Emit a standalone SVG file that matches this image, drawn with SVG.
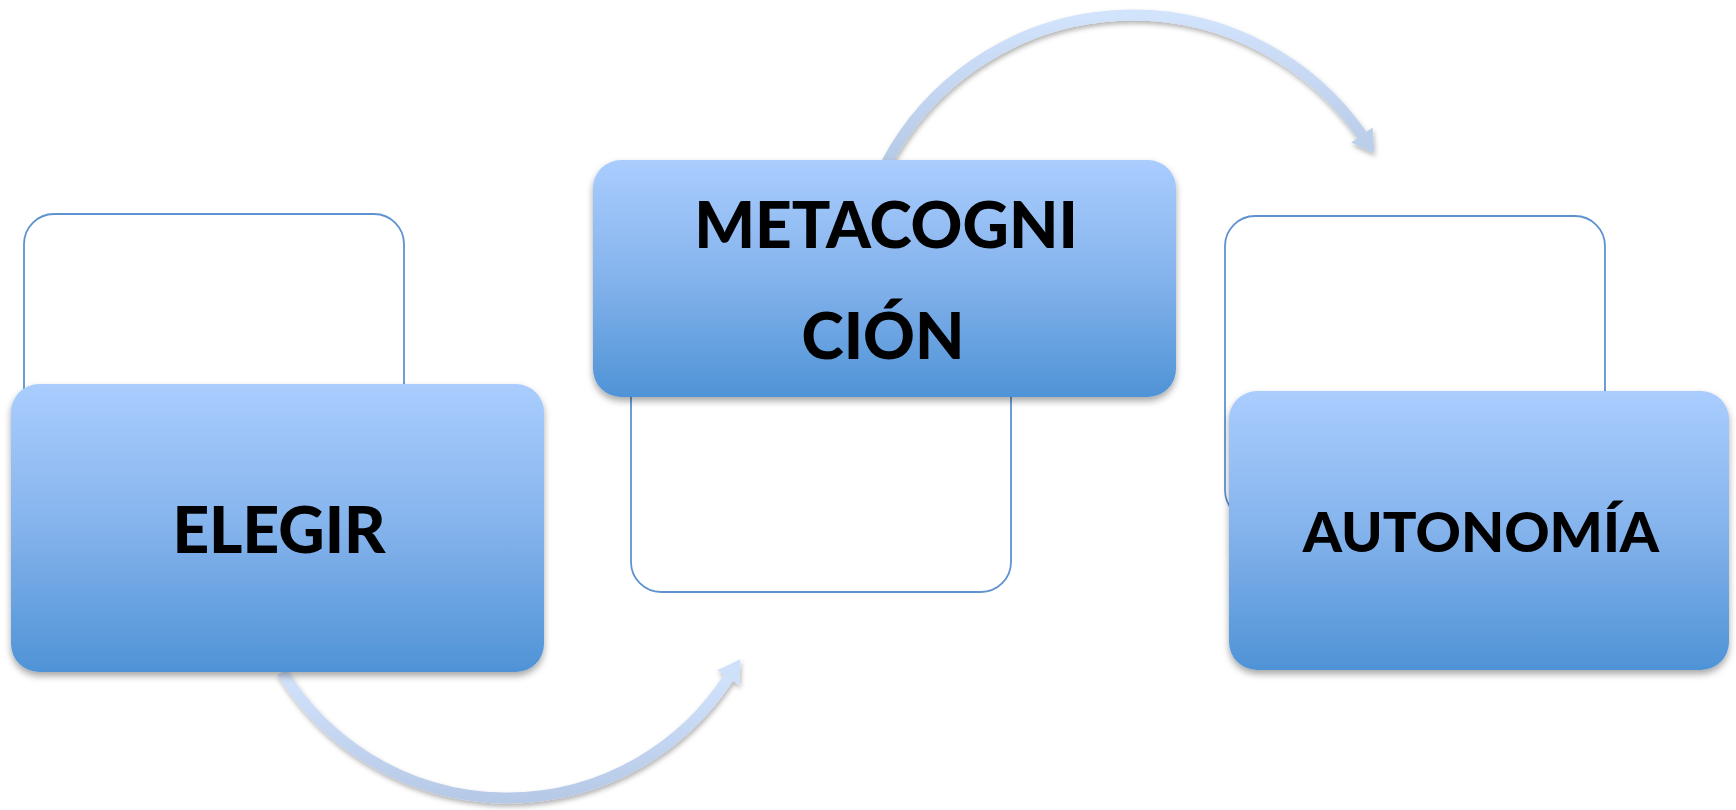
<svg xmlns="http://www.w3.org/2000/svg" width="1736" height="810" viewBox="0 0 1736 810">
  <defs>
    <linearGradient id="blueFill" x1="0" y1="0" x2="0" y2="1">
      <stop offset="0" stop-color="#aacdfe"/>
      <stop offset="0.5" stop-color="#84b3ec"/>
      <stop offset="1" stop-color="#4f93d6"/>
    </linearGradient>
    <linearGradient id="arrowFill" x1="0" y1="0" x2="0" y2="1">
      <stop offset="0" stop-color="#d2e3fc"/>
      <stop offset="1" stop-color="#b6c9e6"/>
    </linearGradient>
    <filter id="shadow" x="-10%" y="-10%" width="120%" height="130%">
      <feDropShadow dx="0" dy="4" stdDeviation="3.5" flood-color="#000" flood-opacity="0.35"/>
    </filter>
    <filter id="ashadow" x="-10%" y="-10%" width="120%" height="130%">
      <feDropShadow dx="1" dy="3" stdDeviation="2.5" flood-color="#000" flood-opacity="0.3"/>
    </filter>
  </defs>
  <style>
    .outline { fill: #ffffff; stroke: #5f93d0; stroke-width: 1.8; }
    .block { fill: url(#blueFill); filter: url(#shadow); }
    .label { font-family: Lato, "Open Sans", "Liberation Sans", sans-serif; font-weight: 900; fill: #000000; text-anchor: middle; }
    .arc { fill: none; stroke: url(#arrowFill); stroke-width: 11; }
  </style>
  <rect width="1736" height="810" fill="#ffffff"/>

  <g id="frames">
    <rect id="frame-elegir" class="outline" x="24" y="214" width="380" height="304" rx="30" ry="30"/>
    <rect id="frame-metacognicion" class="outline" x="631" y="288" width="380" height="304" rx="30" ry="30"/>
    <rect id="frame-autonomia" class="outline" x="1225" y="216" width="380" height="304" rx="30" ry="30"/>
  </g>

  <g id="connectors" filter="url(#ashadow)">
    <g id="arrow-bottom">
      <path class="arc" d="M 282 672 A 264 264 0 0 0 728.4 677.8"/>
      <polygon points="740.4,659.3 739.5,685.3 717.3,670.3" fill="#cfe0fa"/>
    </g>
    <g id="arrow-top">
      <path class="arc" d="M 887 162 A 279 279 0 0 1 1361.9 135"/>
      <polygon points="1374.3,153.2 1372.6,127.6 1351.2,142.4" fill="#bccfea"/>
    </g>
  </g>

  <g id="node-elegir">
    <rect class="block" x="11" y="384" width="533" height="288" rx="28" ry="28"/>
    <text class="label" x="279" y="553" font-size="64">ELEGIR</text>
  </g>
  <g id="node-metacognicion">
    <rect class="block" x="593" y="160" width="583" height="237" rx="28" ry="28"/>
    <text class="label" x="886" y="248" font-size="64">METACOGNI</text>
    <text class="label" x="883" y="359" font-size="64">CIÓN</text>
  </g>
  <g id="node-autonomia">
    <rect class="block" x="1229" y="391" width="500" height="279" rx="28" ry="28"/>
    <text class="label" x="1481" y="552" font-size="56">AUTONOMÍA</text>
  </g>
</svg>
